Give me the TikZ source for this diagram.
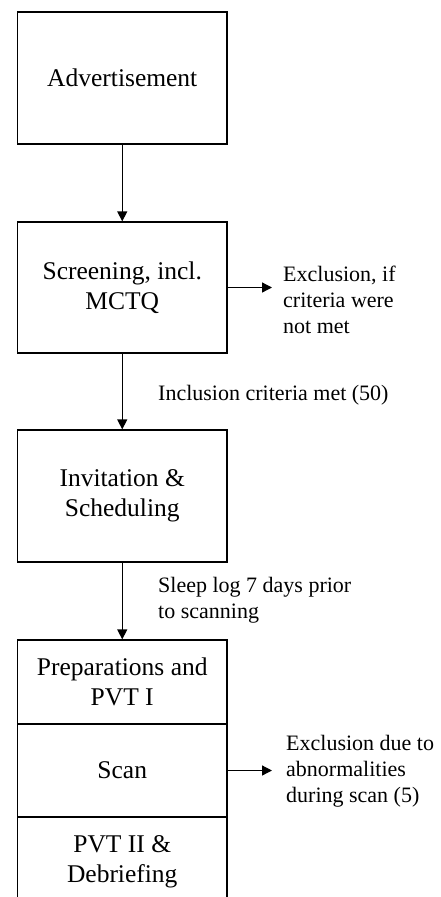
\documentclass[tikz,border=0pt]{standalone}
\usepackage{fontspec}
\setmainfont{Liberation Serif}
\usetikzlibrary{arrows.meta}
\begin{document}
\begin{tikzpicture}[x=1pt,y=-1pt,
  stage/.style={draw, line width=1.3pt, minimum width=209.5pt, inner sep=0pt,
    align=center, font=\fontsize{25.5}{30}\selectfont},
  note/.style={anchor=west, inner sep=0pt, align=left,
    font=\fontsize{22}{26}\selectfont},
  flow/.style={line width=1.3pt, -{Triangle[length=10pt,width=10pt]}}]
\clip (0,0) rectangle (440,897);
\fill[white] (0,0) rectangle (440,897);

% main stages
\node[stage, minimum height=132pt] (adv)  at (122.25,78)    {Advertisement};
\node[stage, minimum height=131pt] (scr)  at (122.25,287.5) {Screening, incl.\\MCTQ};
\node[stage, minimum height=132pt] (inv)  at (122.25,496)   {Invitation \&\\Scheduling};
% session stack (runs off the lower edge)
\node[stage, minimum height=84pt]  (prep) at (122.25,682)   {Preparations and\\PVT I};
\node[stage, minimum height=93pt]  (scan) at (122.25,770.5) {Scan};
\node[stage, minimum height=90pt]  (deb)  at (122.25,862)   {PVT II \&\\Debriefing};

% side notes
\node[note] (excl1) at (283,300) {Exclusion, if\\criteria were\\not met};
\node[note] (incl)  at (158,395) {Inclusion criteria met (50)};
\node[note] (sleep) at (158,600) {Sleep log 7 days prior\\to scanning};
\node[note] (excl2) at (286,771) {Exclusion due to\\abnormalities\\during scan (5)};

\coordinate (out1) at (272,287.5);
\coordinate (out2) at (272,770.5);

% connectors
\draw[flow] (adv) -- (scr);
\draw[flow] (scr) -- (inv);
\draw[flow] (inv) -- (prep);
\draw[flow] (scr.east) -- (out1);
\draw[flow] (scan.east) -- (out2);
\end{tikzpicture}
\end{document}
